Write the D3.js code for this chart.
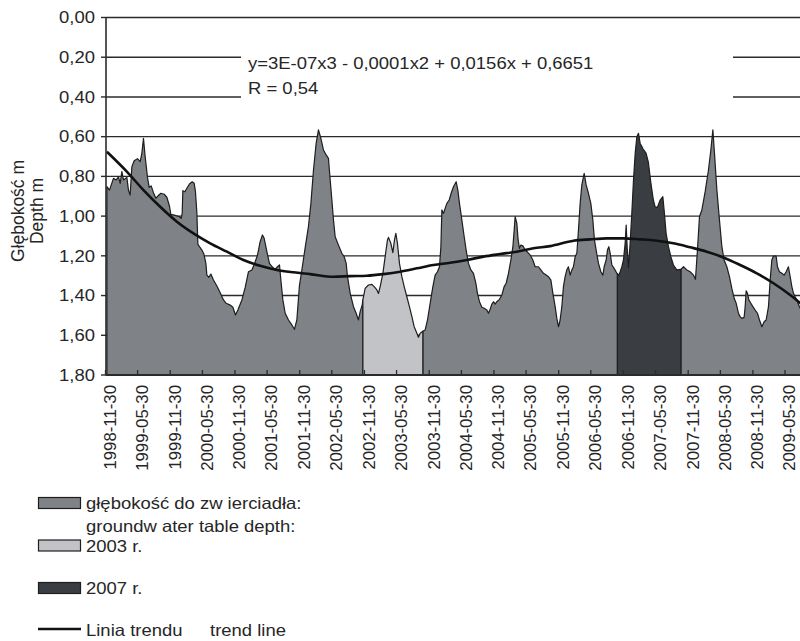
<!DOCTYPE html>
<html><head><meta charset="utf-8">
<script src="https://cdn.jsdelivr.net/npm/d3@7"></script>
<style>
html,body{margin:0;padding:0;background:#fff;}
svg{display:block;font-family:"Liberation Sans",Arial,sans-serif;}
</style>
</head><body>
<svg id="chart" width="800" height="641"></svg>
<script>
// ---------- DATA ----------
// measurement dates as decimal years, depth to water table [m]
const depthYears = [
1998.934,1998.974,1999.035,1999.077,1999.113,1999.139,1999.165,1999.190,1999.242,1999.267,
1999.293,1999.320,1999.355,1999.406,1999.448,1999.474,1999.499,1999.525,1999.561,1999.587,
1999.618,1999.653,1999.690,1999.721,1999.768,1999.819,1999.860,1999.900,1999.922,1999.988,
2000.055,2000.081,2000.097,2000.107,2000.138,2000.169,2000.209,2000.251,2000.282,2000.302,
2000.324,2000.339,2000.364,2000.401,2000.432,2000.463,2000.478,2000.509,2000.540,2000.580,
2000.633,2000.684,2000.735,2000.776,2000.838,2000.880,2000.920,2000.957,2001.019,2001.070,
2001.121,2001.173,2001.213,2001.260,2001.301,2001.337,2001.363,2001.405,2001.445,2001.487,
2001.533,2001.569,2001.600,2001.621,2001.652,2001.688,2001.739,2001.791,2001.831,2001.868,
2001.908,2001.946,2001.996,2002.048,2002.085,2002.125,2002.166,2002.202,2002.239,2002.279,
2002.321,2002.356,2002.383,2002.409,2002.434,2002.460,2002.511,2002.563,2002.599,2002.630,
2002.650,2002.692,2002.743,2002.784,2002.820,2002.846,2002.877,2002.888,
2002.923,2002.974,2003.027,2003.062,2003.104,2003.129,2003.155,2003.197,2003.232,2003.268,
2003.283,2003.320,2003.351,2003.376,2003.397,2003.422,2003.453,2003.490,2003.526,2003.567,
2003.607,2003.645,2003.680,2003.722,2003.746,2003.773,2003.814,
2003.850,2003.886,2003.927,2003.969,2004.004,2004.040,2004.071,2004.093,2004.108,2004.133,
2004.159,2004.185,2004.221,2004.252,2004.287,2004.329,2004.355,2004.380,2004.417,2004.453,
2004.483,2004.519,2004.556,2004.596,2004.633,2004.658,2004.689,2004.726,2004.761,2004.803,
2004.828,2004.854,2004.880,2004.905,2004.931,2004.957,2004.998,2005.035,2005.070,2005.101,
2005.137,2005.174,2005.205,2005.225,2005.240,2005.266,2005.286,2005.306,2005.328,2005.359,
2005.395,2005.430,2005.472,2005.513,2005.549,2005.600,2005.637,2005.677,2005.719,2005.754,
2005.792,2005.823,2005.858,2005.884,2005.909,2005.935,2005.961,2005.986,2006.012,2006.038,
2006.063,2006.090,2006.116,2006.140,2006.167,2006.193,2006.218,2006.244,2006.270,2006.306,
2006.337,2006.372,2006.409,2006.440,2006.465,2006.491,2006.527,2006.564,2006.595,2006.615,
2006.646,2006.666,2006.687,2006.708,2006.734,2006.769,2006.811,2006.820,
2006.842,2006.862,2006.888,2006.913,2006.939,2006.955,2006.970,2006.990,2007.016,2007.042,
2007.068,2007.094,2007.120,2007.145,2007.171,2007.197,2007.217,2007.263,2007.298,2007.335,
2007.375,2007.402,2007.437,2007.480,2007.521,2007.541,2007.572,2007.608,2007.645,2007.685,
2007.737,2007.800,
2007.840,2007.892,2007.943,2007.994,2008.025,2008.056,2008.087,2008.124,2008.175,2008.226,
2008.263,2008.294,2008.319,2008.356,2008.396,2008.433,2008.468,2008.510,2008.550,2008.587,
2008.623,2008.654,2008.689,2008.715,2008.741,2008.777,2008.793,2008.808,2008.828,2008.850,
2008.881,2008.912,2008.947,2008.983,2009.014,2009.051,2009.086,2009.117,2009.153,2009.179,
2009.205,2009.230,2009.271,2009.292,2009.322,2009.360,2009.395,2009.426,2009.461,2009.488,
2009.514,2009.539,2009.565,2009.591,2009.631,2009.689
];
const depthValues = [
0.852,0.869,0.810,0.818,0.802,0.835,0.776,0.818,0.805,0.869,
0.894,0.751,0.721,0.711,0.726,0.684,0.608,0.701,0.805,0.855,
0.848,0.882,0.910,0.899,0.885,0.890,0.905,0.949,0.991,0.996,
1.003,1.011,0.986,0.872,0.877,0.860,0.838,0.827,0.835,0.877,
0.986,1.141,1.154,1.171,1.191,1.238,1.297,1.308,1.292,1.322,
1.352,1.386,1.422,1.439,1.448,1.459,1.498,1.473,1.422,1.359,
1.280,1.271,1.241,1.196,1.129,1.095,1.112,1.179,1.238,1.255,
1.268,1.255,1.246,1.322,1.422,1.489,1.523,1.548,1.570,1.523,
1.350,1.270,1.160,1.050,0.936,0.768,0.634,0.566,0.608,0.667,
0.692,0.709,0.818,0.919,1.020,1.104,1.146,1.187,1.204,1.238,
1.305,1.389,1.456,1.489,1.523,1.481,1.448,1.422,
1.364,1.347,1.344,1.355,1.372,1.389,1.355,1.288,1.204,1.120,
1.107,1.137,1.184,1.120,1.087,1.137,1.238,1.305,1.355,1.406,
1.456,1.506,1.557,1.590,1.610,1.590,1.580,
1.573,1.523,1.439,1.355,1.297,1.280,1.255,1.154,0.969,0.986,
0.961,0.936,0.919,0.885,0.852,0.827,0.869,0.936,1.020,1.104,
1.171,1.238,1.271,1.288,1.338,1.389,1.431,1.459,1.464,1.473,
1.489,1.469,1.443,1.431,1.443,1.431,1.419,1.397,1.355,1.338,
1.288,1.221,1.154,1.070,1.003,1.036,1.120,1.162,1.146,1.150,
1.171,1.181,1.196,1.221,1.255,1.255,1.271,1.288,1.297,1.305,
1.322,1.389,1.456,1.515,1.557,1.523,1.456,1.355,1.305,1.271,
1.255,1.297,1.271,1.255,1.204,1.187,1.070,0.936,0.843,0.785,
0.843,0.885,0.936,1.020,1.120,1.171,1.238,1.280,1.297,1.255,
1.221,1.171,1.154,1.187,1.246,1.263,1.288,1.290,
1.297,1.280,1.255,1.221,1.137,1.045,1.154,1.260,1.137,0.986,
0.818,0.684,0.600,0.583,0.634,0.650,0.662,0.684,0.730,0.830,
0.919,0.953,0.956,0.919,0.902,0.969,1.087,1.154,1.204,1.246,
1.271,1.268,
1.255,1.271,1.280,1.297,1.318,1.171,1.003,0.969,0.877,0.768,
0.667,0.566,0.684,0.869,1.020,1.154,1.221,1.255,1.305,1.364,
1.414,1.439,1.489,1.506,1.515,1.510,1.456,1.376,1.389,1.422,
1.439,1.456,1.473,1.489,1.523,1.557,1.532,1.523,1.456,1.322,
1.221,1.201,1.201,1.255,1.280,1.288,1.297,1.280,1.255,1.305,
1.355,1.389,1.406,1.422,1.456,1.490
];
// highlighted hydrological years
const periodNames = ["2003 r.", "2007 r."];
const periodFrom  = [2002.888, 2006.820];
const periodTo    = [2003.814, 2007.800];

// polynomial trend line
const trendYears = [
1998.934,1999.242,1999.499,1999.757,2000.015,2000.271,2000.529,2000.787,2001.043,2001.301,
2001.559,2001.816,2002.074,2002.434,2002.692,2002.949,2003.206,2003.464,2003.722,2003.978,
2004.236,2004.494,2004.750,2005.008,2005.266,2005.523,2005.781,2006.141,2006.399,2006.657,
2006.913,2007.171,2007.429,2007.685,2007.943,2008.201,2008.458,2008.715,2008.973,2009.230,
2009.488,2009.689
];
const trendValues = [
0.676,0.776,0.869,0.953,1.028,1.087,1.137,1.179,1.221,1.250,
1.271,1.283,1.292,1.305,1.302,1.300,1.292,1.280,1.263,1.246,
1.235,1.221,1.204,1.191,1.179,1.162,1.151,1.124,1.117,1.112,
1.112,1.117,1.124,1.137,1.157,1.179,1.208,1.246,1.288,1.338,
1.397,1.450
];

const xTickLabels = ["1998-11-30","1999-05-30","1999-11-30","2000-05-30","2000-11-30","2001-05-30",
"2001-11-30","2002-05-30","2002-11-30","2003-05-30","2003-11-30","2004-05-30","2004-11-30",
"2005-05-30","2005-11-30","2006-05-30","2006-11-30","2007-05-30","2007-11-30","2008-05-30",
"2008-11-30","2009-05-30"];
const yTickValues = [0, 0.2, 0.4, 0.6, 0.8, 1.0, 1.2, 1.4, 1.6, 1.8];
const equationLines = ["y=3E-07x3 - 0,0001x2 + 0,0156x + 0,6651", "R = 0,54"];
const axisTitleLines = ["Głębokość m", "Depth m"];
const legendLabels = ["głębokość do zw ierciadła:", "groundw ater table depth:", "2003 r.", "2007 r.", "Linia trendu", "trend line"];

// ---------- STYLE ----------
const C = {gray:"#7f8286", light:"#c2c3c7", dark:"#3a3d41", edge:"#1e1e1e", grid:"#2b2b2b", text:"#262626"};
const FS = 16.5, SX = 1.12;

const svg = d3.select("#chart");
const pLeft = 106, pRight = 800, pTop = 17.5, pBottom = 375;

function decYear(s){
  const d = d3.timeParse("%Y-%m-%d")(s);
  const yr = d.getFullYear();
  const a = new Date(yr,0,1), b = new Date(yr+1,0,1);
  return yr + (d - a)/(b - a);
}
const x = d3.scaleLinear().domain([decYear(xTickLabels[0]), decYear(xTickLabels[xTickLabels.length-1])]).range([105.5, 785]);
const y = d3.scaleLinear().domain([0, 1.8]).range([pTop, pBottom]);

function htext(g, tx, ty, str, anchor){
  return g.append("text").attr("transform", `translate(${tx},${ty}) scale(${SX},1)`)
    .attr("text-anchor", anchor || "start").attr("font-size", FS).attr("fill", C.text).text(str);
}

// gridlines
svg.append("g").selectAll("line").data(yTickValues).join("line")
  .attr("x1", pLeft).attr("x2", pRight).attr("y1", d => y(d)).attr("y2", d => y(d))
  .attr("stroke", C.grid).attr("stroke-width", 1.4);

// equation label box (covers gridlines)
svg.append("rect").attr("x", 241).attr("y", 35).attr("width", 492).attr("height", 75).attr("fill", "#fff");
htext(svg, 248, 68.5, equationLines[0]);
htext(svg, 248, 94, equationLines[1]);

// data
const pts = depthYears.map((t,i) => ({t, v: depthValues[i]}));
const area = d3.area().x(d => x(d.t)).y0(y(1.8)).y1(d => y(d.v));
const plot = svg.append("g");
const grayRanges = [[-Infinity, periodFrom[0]], [periodTo[0], periodFrom[1]], [periodTo[1], Infinity]];
grayRanges.forEach(([a,b]) => {
  const seg = pts.filter(d => d.t >= a && d.t <= b);
  plot.append("path").attr("d", area(seg)).attr("fill", C.gray)
    .attr("stroke", C.edge).attr("stroke-width", 1.2).attr("stroke-linejoin", "round");
});
periodNames.forEach((n,i) => {
  const seg = pts.filter(d => d.t >= periodFrom[i] && d.t <= periodTo[i]);
  plot.append("path").attr("d", area(seg)).attr("fill", i === 0 ? C.light : C.dark)
    .attr("stroke", C.edge).attr("stroke-width", 1.2).attr("stroke-linejoin", "round");
});

// trend
const trendPts = trendYears.map((t,i) => ({t, v: trendValues[i]}));
svg.append("path").attr("d", d3.line().x(d => x(d.t)).y(d => y(d.v)).curve(d3.curveMonotoneX)(trendPts))
  .attr("fill", "none").attr("stroke", "#111").attr("stroke-width", 2.6);

// axes
svg.append("line").attr("x1", pLeft).attr("x2", pLeft).attr("y1", pTop).attr("y2", pBottom + 0.5)
  .attr("stroke", C.grid).attr("stroke-width", 1.6);
svg.append("line").attr("x1", pLeft).attr("x2", pRight).attr("y1", pBottom).attr("y2", pBottom)
  .attr("stroke", C.grid).attr("stroke-width", 1.8);
// y ticks + labels
svg.append("g").selectAll("line").data(yTickValues).join("line")
  .attr("x1", 101).attr("x2", pLeft).attr("y1", d => y(d)).attr("y2", d => y(d))
  .attr("stroke", C.grid).attr("stroke-width", 1.4);
yTickValues.forEach(v => {
  htext(svg, 95, y(v) + 5.8, d3.format(".2f")(v).replace(".", ","), "end");
});
// x ticks (inside) + labels
const xt = xTickLabels.map(decYear);
svg.append("g").selectAll("line").data(xt).join("line")
  .attr("x1", d => x(d)).attr("x2", d => x(d)).attr("y1", pBottom - 5).attr("y2", pBottom)
  .attr("stroke", C.grid).attr("stroke-width", 1.3);
xTickLabels.forEach((s,i) => {
  svg.append("text").attr("transform", `translate(${x(xt[i]) + 4.5},385) rotate(-90)`)
    .attr("dy", "0.35em").attr("text-anchor", "end").attr("font-size", 16.8).attr("fill", C.text).text(s);
});

// y axis title
axisTitleLines.forEach((s,i) => {
  svg.append("text").attr("transform", `translate(${18 + i*19},211) rotate(-90)`)
    .attr("dy", "0.35em").attr("text-anchor", "middle").attr("font-size", 17.5).attr("fill", C.text).text(s);
});

// legend
const lg = svg.append("g");
lg.append("rect").attr("x", 38.5).attr("y", 497.5).attr("width", 42).attr("height", 11).attr("fill", C.gray).attr("stroke", C.edge).attr("stroke-width", 1.2);
htext(lg, 86, 508.5, legendLabels[0]);
htext(lg, 86, 532, legendLabels[1]);
lg.append("rect").attr("x", 38.5).attr("y", 540).attr("width", 42).attr("height", 11).attr("fill", C.light).attr("stroke", C.edge).attr("stroke-width", 1.2);
htext(lg, 86, 552, legendLabels[2]);
lg.append("rect").attr("x", 38.5).attr("y", 582.5).attr("width", 42).attr("height", 11).attr("fill", C.dark).attr("stroke", C.edge).attr("stroke-width", 1.2);
htext(lg, 86, 594, legendLabels[3]);
lg.append("line").attr("x1", 38).attr("x2", 81).attr("y1", 629).attr("y2", 629).attr("stroke", "#111").attr("stroke-width", 2.6);
htext(lg, 86, 636, legendLabels[4]);
htext(lg, 210, 636, legendLabels[5]);
</script>
</body></html>
